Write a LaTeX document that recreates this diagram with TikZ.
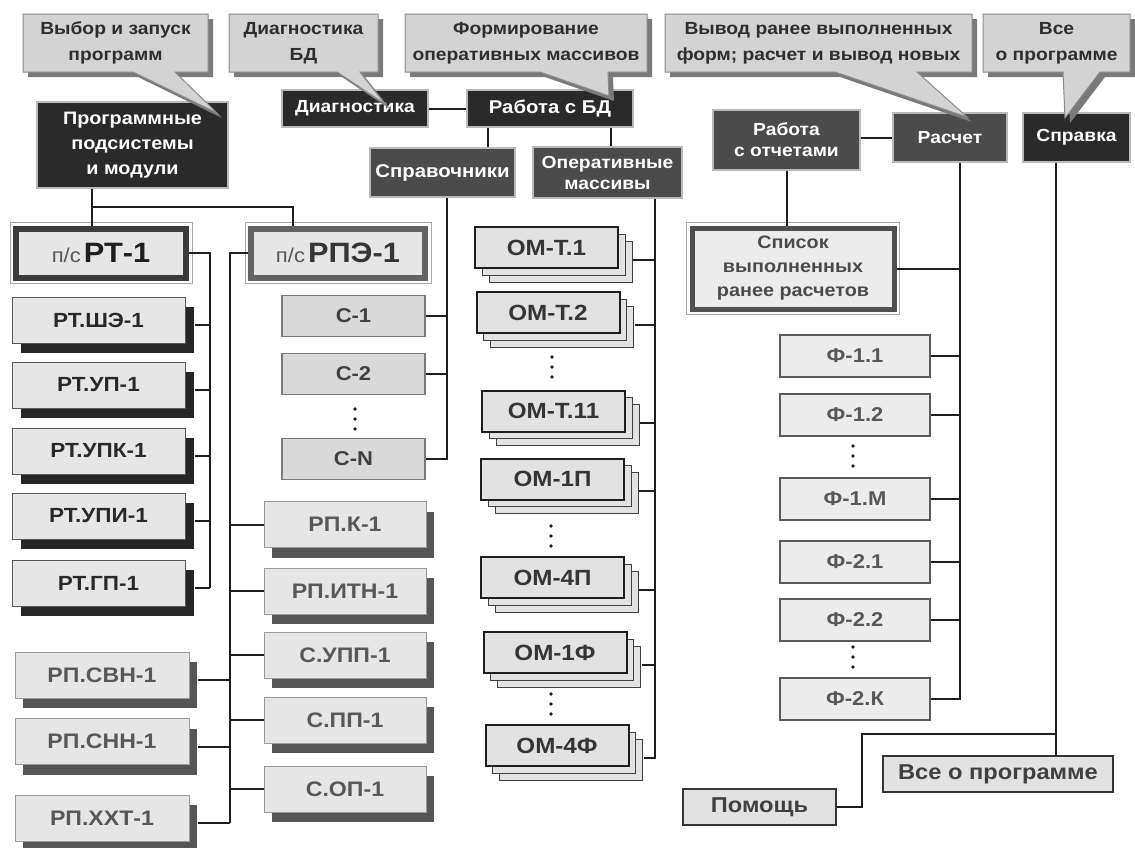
\documentclass[tikz,border=0pt]{standalone}
\usepackage{fontspec}
\setmainfont{Liberation Sans}[FakeStretch=1.1]
\usetikzlibrary{shadows}

\definecolor{ink}{HTML}{1E1E1E}
\definecolor{boxdark}{HTML}{2A2A2A}
\definecolor{boxmid}{HTML}{4B4B4B}
\definecolor{bubfill}{HTML}{D3D3D3}
\definecolor{bubline}{HTML}{8A8A8A}
\definecolor{bubshade}{HTML}{7A7A7A}
\definecolor{bubtext}{HTML}{2E2E2E}
\definecolor{lightfill}{HTML}{E6E6E6}
\definecolor{rtshade}{HTML}{262626}
\definecolor{rpshade}{HTML}{555555}
\definecolor{rptext}{HTML}{585858}
\definecolor{cfill}{HTML}{D9D9D9}
\definecolor{cline}{HTML}{7A7A7A}
\definecolor{omfill}{HTML}{E2E2E2}
\definecolor{ffill}{HTML}{ECECEC}
\definecolor{fline}{HTML}{5A5A5A}
\definecolor{framegray}{HTML}{A8A8A8}
\definecolor{thickgray}{HTML}{3C3C3C}

\newcommand\fs[2]{\fontsize{#1}{#2}\selectfont}

% speech bubble: box corners (x1,y1)-(x2,y2), tail base tl..tr on the lower edge, tail tip
\newcommand\bubble[8]{%
  \fill[bubshade,xshift=5pt,yshift=-5pt] (#1,#2) -- (#3,#2) -- (#3,#4) -- (#6,#4) -- (#7,#8) -- (#5,#4) -- (#1,#4) -- cycle;
  \filldraw[fill=bubfill,draw=bubline,line width=1pt] (#1,#2) -- (#3,#2) -- (#3,#4) -- (#6,#4) -- (#7,#8) -- (#5,#4) -- (#1,#4) -- cycle;}

% three stacked dots
\newcommand\dotcol[2]{\foreach \d in {-10,0,10}{\fill[ink] (#1,#2+\d) circle (1.9pt);}}

\tikzset{
  link/.style={draw=ink, line width=2pt},
  darkbox/.style={fill=boxdark, draw=gray!55, line width=1.5pt, text=white,
    align=center, inner sep=0pt, font=\fs{17.5}{21}\bfseries},
  midbox/.style={darkbox, fill=boxmid},
  bubtext/.style={text=bubtext, align=center, inner sep=0pt, font=\fs{17.5}{26}\bfseries},
  rtbox/.style={fill=lightfill, draw=gray!70!black, line width=1pt, text=ink!95,
    minimum width=173pt, minimum height=46pt, inner sep=0pt, font=\fs{20.5}{24}\bfseries,
    general shadow={fill=rtshade, shadow xshift=9pt, shadow yshift=-10pt}},
  rpbox/.style={fill=lightfill, draw=gray!80, line width=1pt, text=rptext,
    minimum height=46pt, inner sep=0pt, font=\fs{21}{25}\bfseries,
    general shadow={fill=rpshade, shadow xshift=8pt, shadow yshift=-10pt}},
  psbox/.style={fill=lightfill, draw=thickgray, line width=6pt, minimum width=170pt,
    minimum height=49pt, inner sep=0pt},
  cbox/.style={fill=cfill, draw=cline, line width=1.5pt, text=ink!85,
    minimum width=143pt, minimum height=41pt, inner sep=0pt, font=\fs{20}{24}\bfseries},
  ombox/.style={fill=omfill, draw=ink, line width=2pt, text=ink!90,
    minimum width=143pt, minimum height=41pt, inner sep=0pt, font=\fs{22}{26}\bfseries,
    general shadow={fill=omfill, draw=ink!85, line width=1pt, shadow xshift=14pt, shadow yshift=-14pt},
    general shadow={fill=omfill, draw=ink!85, line width=1pt, shadow xshift=7pt, shadow yshift=-7pt}},
  fbox/.style={fill=ffill, draw=fline, line width=1.5pt, text=rptext,
    minimum width=150pt, minimum height=42pt, inner sep=0pt, font=\fs{20}{24}\bfseries},
  endbox/.style={fill=omfill, draw=ink!90, line width=2pt, text=ink!85,
    minimum height=36pt, inner sep=0pt, font=\fs{21.5}{25}\bfseries},
  outerframe/.style={draw=framegray, line width=1pt},
}

\begin{document}
\begin{tikzpicture}[x=1pt,y=-1pt]
\useasboundingbox[fill=white] (0,0) rectangle (1135,847);

% ---------- top level boxes ----------
\node[darkbox, minimum width=191pt, minimum height=86pt, font=\fs{18}{25}\bfseries] (prog) at (132.5,145) {Программные\\подсистемы\\и модули};
\node[darkbox, minimum width=146pt, minimum height=37pt] (diag) at (355,108.5) {Диагностика};
\node[darkbox, minimum width=166pt, minimum height=37pt, font=\fs{18.5}{22}\bfseries] (rbd) at (550,108.5) {Работа с БД};
\node[midbox, minimum width=145pt, minimum height=49pt, font=\fs{18.5}{22}\bfseries] (sprav) at (442.5,172.5) {Справочники};
\node[midbox, minimum width=149pt, minimum height=51pt] (opm) at (607.5,172.5) {Оперативные\\массивы};
\node[midbox, minimum width=147pt, minimum height=60pt] (rotch) at (786.5,140) {Работа\\с отчетами};
\node[midbox, minimum width=114pt, minimum height=49pt] (rasch) at (950,137.5) {Расчет};
\node[darkbox, minimum width=107pt, minimum height=49pt] (spravka) at (1076.5,137.5) {Справка};

% ---------- subsystems ----------
\node[psbox] (rt1) at (101,253) {\textcolor{rptext}{\fs{20}{24}п/с} \textcolor{ink}{\fs{28}{32}\bfseries РТ-1}};
\draw[outerframe] ([xshift=-3pt,yshift=3pt]rt1.north west) rectangle ([xshift=3pt,yshift=-3pt]rt1.south east);
\node[psbox, draw=thickgray!80, minimum width=174pt] (rpe1) at (338,253) {\textcolor{rptext}{\fs{20}{24}п/с} \textcolor{ink!90}{\fs{28}{32}\bfseries РПЭ-1}};
\draw[outerframe] ([xshift=-3pt,yshift=3pt]rpe1.north west) rectangle ([xshift=3pt,yshift=-3pt]rpe1.south east);

\foreach \n/\y/\t in {rt2/320/РТ.ШЭ-1, rt3/385/РТ.УП-1, rt4/451/РТ.УПК-1, rt5/516/РТ.УПИ-1, rt6/583/РТ.ГП-1}
  \node[rtbox] (\n) at (98.5,\y) {\t};

\foreach \n/\y/\t in {rpsvn/675/РП.СВН-1, rpsnn/741.5/РП.СНН-1, rpxxt/818/РП.ХХТ-1}
  \node[rpbox, minimum width=174pt] (\n) at (102,\y) {\t};

\foreach \n/\y/\t in {rpk/524.5/РП.К-1, rpitn/591/РП.ИТН-1, supp/655/С.УПП-1, spp/720/С.ПП-1, sop/789/С.ОП-1}
  \node[rpbox, minimum width=162pt] (\n) at (345,\y) {\t};

% ---------- reference books ----------
\node[cbox] (c1) at (353.5,316) {С-1};
\node[cbox] (c2) at (353.5,374) {С-2};
\node[cbox] (cN) at (353.5,459) {С-N};
\dotcol{355}{419}

% ---------- operational arrays ----------
\node[ombox] (om1) at (546.5,247.5) {ОМ-Т.1};
\node[ombox] (om2) at (548,312.5) {ОМ-Т.2};
\node[ombox] (om3) at (553.5,411) {ОМ-Т.11};
\node[ombox] (om4) at (552.5,479) {ОМ-1П};
\node[ombox] (om5) at (552.5,577.5) {ОМ-4П};
\node[ombox] (om6) at (555,652.5) {ОМ-1Ф};
\node[ombox] (om7) at (557,745.5) {ОМ-4Ф};
\dotcol{552}{367}
\dotcol{551}{536}
\dotcol{551}{704}

% ---------- reports ----------
\node[fill=ffill, draw=thickgray!90, line width=5pt, minimum width=202pt, minimum height=81pt,
  inner sep=0pt, align=center, text=ink!80, font=\fs{18}{24}\bfseries] (spisok) at (793,268.5)
  {Список\\выполненных\\ранее расчетов};
\draw[outerframe] ([xshift=-3pt,yshift=3pt]spisok.north west) rectangle ([xshift=3pt,yshift=-3pt]spisok.south east);

\foreach \n/\y/\t in {f1/356/Ф-1.1, f2/415/Ф-1.2, f3/499/Ф-1.М, f4/562/Ф-2.1, f5/620/Ф-2.2, f6/699/Ф-2.К}
  \node[fbox] (\n) at (855,\y) {\t};
\dotcol{853}{456}
\dotcol{853}{657}

% ---------- help ----------
\node[endbox, minimum width=230pt] (allabout) at (998,774) {Все о программе};
\node[endbox, minimum width=153pt] (help) at (759.5,807) {Помощь};

% ---------- connectors ----------
\coordinate (progdrop) at ([xshift=-40.5pt]prog.south);
\coordinate (split) at (92,207);
\coordinate (rpetop) at ([xshift=-45pt]rpe1.north);
\draw[link] (progdrop) -- (progdrop |- rt1.north);
\draw[link] (split) -| (rpetop);

\coordinate (rtbus) at (210,0);
\foreach \n in {rt2,rt3,rt4,rt5,rt6}{
  \coordinate (\n-r) at ([xshift=9pt,yshift=-5pt]\n.east);
  \draw[link] (\n-r) -- (\n-r -| rtbus);}
\draw[link] (rt1.east) -| (rt6-r -| rtbus);

\coordinate (rpbus) at (230,0);
\foreach \n in {rpsvn,rpsnn,rpxxt}{
  \coordinate (\n-r) at ([xshift=8pt,yshift=-5pt]\n.east);
  \draw[link] (\n-r) -- (\n-r -| rpbus);}
\foreach \n in {rpk,rpitn,supp,spp,sop}
  \draw[link] (\n.west) -- (\n.west -| rpbus);
\draw[link] (rpe1.west) -| (rpxxt-r -| rpbus);

\draw[link] (diag) -- (rbd);
\coordinate (rbdl) at ([xshift=-62pt]rbd.south);
\coordinate (rbdr) at ([xshift=61pt]rbd.south);
\draw[link] (rbdl) -- (rbdl |- sprav.north);
\draw[link] (rbdr) -- (rbdr |- opm.north);

\coordinate (spravdrop) at ([xshift=4.5pt]sprav.south);
\draw[link] (spravdrop) |- (cN.east);
\foreach \n in {c1,c2}
  \draw[link] (\n.east) -- (\n.east -| spravdrop);

\coordinate (opmdrop) at ([xshift=47.5pt]opm.south);
\foreach \n in {om1,om2,om3,om4,om5,om6,om7}{
  \coordinate (\n-r) at ([xshift=14pt,yshift=-12pt]\n.east);
  \draw[link] (\n-r) -- (\n-r -| opmdrop);}
\draw[link] (opmdrop) |- (om7-r);

\draw[link] (rasch.west) -- (rasch.west -| rotch.east);
\draw[link] (rotch.south) -- (rotch.south |- spisok.north);
\coordinate (raschdrop) at ([xshift=10pt]rasch.south);
\draw[link] (raschdrop) |- (f6.east);
\foreach \n in {f1,f2,f3,f4,f5}
  \draw[link] (\n.east) -- (\n.east -| raschdrop);
\draw[link] (spisok.east) -- (spisok.east -| raschdrop);

\coordinate (sprdrop) at ([xshift=-20.5pt]spravka.south);
\coordinate (helpsplit) at (1056,734);
\coordinate (helpbend) at (862,734);
\draw[link] (sprdrop) -- (sprdrop |- allabout.north);
\draw[link] (helpsplit) -- (helpbend) |- (help.east);

% ---------- speech bubbles ----------
\bubble{23}{14}{208}{72}{133}{175}{217}{113}
\node[bubtext] (t1) at (115.5,43) {Выбор и запуск\\программ};
\bubble{229}{14}{378}{72}{337}{360}{385}{104}
\node[bubtext] (t2) at (303.5,43) {Диагностика\\БД};
\bubble{405}{14}{647}{72}{540}{608}{609}{96}
\node[bubtext] (t3) at (526,43) {Формирование\\оперативных массивов};
\bubble{665}{14}{972}{72}{835}{917}{967}{117}
\node[bubtext] (t4) at (818.5,43) {Вывод ранее выполненных\\форм; расчет и вывод новых};
\bubble{983}{14}{1130}{72}{1063}{1100}{1065}{118}
\node[bubtext] (t5) at (1056.5,43) {Все\\о программе};
\end{tikzpicture}
\end{document}
